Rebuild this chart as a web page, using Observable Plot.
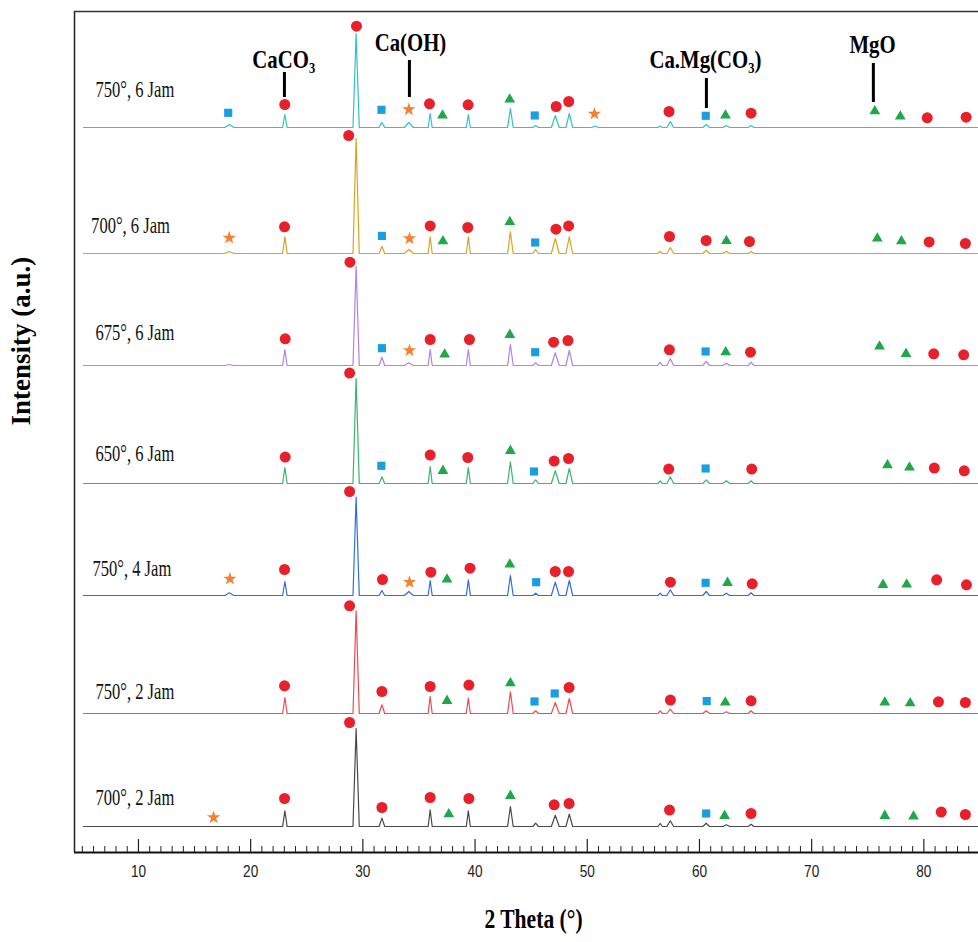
<!DOCTYPE html>
<html>
<head>
<meta charset="utf-8">
<script src="https://cdn.jsdelivr.net/npm/d3@7"></script>
<script src="https://cdn.jsdelivr.net/npm/@observablehq/plot@0.6"></script>
<style>
html, body { margin: 0; padding: 0; background: #fff; }
#chart svg { display: block; }
</style>
</head>
<body>
<div id="chart"></div>
<script>
// ---------- DATA ----------
const sampleLabels = ["750°, 6 Jam", "700°, 6 Jam", "675°, 6 Jam", "650°, 6 Jam", "750°, 4 Jam", "750°, 2 Jam", "700°, 2 Jam"];
// vertical offset of each pattern (a.u.)
const baselines = [725, 599, 487, 369, 257, 139, 26];
const labelHeights = [37.5, 28, 33, 30, 27, 22, 29];
const labelTheta = [6.17, 5.78, 6.17, 6.17, 5.9, 6.17, 6.17];

// diffraction peaks (2θ, degrees) and half widths
const peakPos = [18.1, 23.05, 29.4, 31.7, 34.1, 36.0, 39.4, 43.15, 45.4, 47.15, 48.4, 50.7, 56.5, 57.4, 60.6, 62.4, 64.6];
const peakHW  = [0.4, 0.2, 0.28, 0.25, 0.4, 0.18, 0.18, 0.25, 0.25, 0.35, 0.3, 0.3, 0.2, 0.3, 0.3, 0.3, 0.25];
// peak intensities per pattern (a.u.), aligned with peakPos
const peaks750_6 = [3, 13, 94, 5, 5, 14, 13, 19, 2, 12, 14, 1.5, 1.5, 6, 3, 2, 2];
const peaks700_6 = [2, 16.7, 115, 7, 4, 16.7, 16.7, 21.7, 4, 15, 16.7, 0, 2, 6, 3.3, 2, 2];
const peaks675_6 = [1, 16, 99, 8.3, 2.7, 16, 16, 21, 2.7, 12.7, 15, 0, 3.3, 6.7, 4, 2.3, 3.3];
const peaks650_6 = [0, 16, 105, 6.7, 0, 17, 16, 21.7, 3.7, 12.7, 15, 0, 2.7, 6.7, 3.7, 2.7, 2.7];
const peaks750_4 = [2.7, 14, 98.3, 5, 4, 15, 15.7, 20, 2.3, 13.3, 15, 0, 2.3, 5.7, 4, 2.3, 2.7];
const peaks750_2 = [0, 16, 102.7, 8.7, 0, 17, 15.3, 21.7, 2.7, 11, 15, 0, 2.7, 4.3, 2.7, 1.7, 2.7];
const peaks700_2 = [0, 15.7, 98, 8.4, 0, 16.7, 15.7, 20, 3.3, 11.3, 12.4, 0, 3, 5.7, 3.3, 1.7, 2.3];
const scanStart = 5.1, scanEnd = 84.8;

// phase markers: [phase, 2θ, height above pattern baseline]
// C = CaCO3 (circle), P = Ca(OH) (star), S = Ca.Mg(CO3) (square), T = MgO (triangle)
const marks750_6 = [["S",18.0,14.7],["C",23.04,23],["C",29.43,101.3],["S",31.66,17.7],["P",34.1,18],["C",35.94,23.7],["T",37.1,12],["C",39.38,22.7],["T",43.09,28],["S",45.32,12],["C",47.23,21],["C",48.35,26],["P",50.64,13.7],["C",57.29,16],["S",60.56,11.7],["T",62.32,12],["C",64.6,14.3],["T",75.63,16.3],["T",77.9,11],["C",80.3,9.7],["C",83.77,10.3]];
const marks700_6 = [["P",18.09,15.6],["C",23.02,26.7],["C",28.74,118],["S",31.7,17.6],["P",34.16,15],["C",36.0,27.6],["T",37.14,12.3],["C",39.35,26],["T",43.1,31.6],["S",45.36,11],["C",47.21,24.3],["C",48.34,27.6],["C",57.33,17],["C",60.6,13],["T",62.4,12.6],["C",64.46,12],["T",75.85,15],["T",78.0,12.3],["C",80.47,11.6],["C",83.7,10]];
const marks675_6 = [["C",23.08,26.7],["C",28.85,103.3],["S",31.7,17.3],["P",34.16,15],["C",36.0,26],["T",37.29,11],["C",39.5,26],["T",43.1,30.7],["S",45.36,13.3],["C",47.0,23.3],["C",48.28,25],["C",57.32,15.7],["S",60.55,14],["T",62.34,13.3],["C",64.55,13.3],["T",76.05,19],["T",78.41,11.7],["C",80.88,11.7],["C",83.55,10.7]];
const marks650_6 = [["C",23.08,26.4],["C",28.82,110.4],["S",31.65,17.7],["C",36.0,28.4],["T",37.14,12.7],["C",39.35,26],["T",43.15,32.7],["S",45.25,12],["C",47.05,22.4],["C",48.33,25],["C",57.26,14.4],["S",60.55,15],["C",64.66,14.4],["T",76.76,18.4],["T",78.72,16],["C",80.93,15.4],["C",83.6,12.7]];
const marks750_4 = [["P",18.15,16.7],["C",23.02,26],["C",28.82,104],["C",31.75,16],["P",34.16,13.3],["C",36.06,23.3],["T",37.5,16],["C",39.55,27.3],["T",43.1,31],["S",45.45,13.3],["C",47.15,24],["C",48.33,24],["C",57.41,13.3],["S",60.55,12.7],["T",62.5,12.7],["C",64.7,11.7],["T",76.36,10.7],["T",78.47,11],["C",81.14,15.7],["C",83.8,10.7]];
const marks750_2 = [["C",23.02,27.7],["C",28.82,107.7],["C",31.7,22],["C",36.0,27],["T",37.5,12.7],["C",39.45,28.4],["T",43.15,30.4],["S",45.3,12],["S",47.1,20],["C",48.38,26],["C",57.41,13.4],["S",60.65,12.4],["T",62.3,11],["C",64.6,12.7],["T",76.52,11],["T",78.78,10.4],["C",81.3,11.7],["C",83.7,11]];
const marks700_2 = [["P",16.7,9],["C",23.02,28],["C",28.82,104],["C",31.7,19],["C",36.0,29],["T",37.66,12.4],["C",39.45,28],["T",43.15,30.7],["C",47.05,21.7],["C",48.38,23],["C",57.33,16.4],["S",60.6,13],["T",62.24,10.7],["C",64.6,13],["T",76.52,10.7],["T",79.08,10],["C",81.55,14.4],["C",83.7,12]];

// phase annotations
const phaseNames = ["CaCO₃", "Ca(OH)", "Ca.Mg(CO₃)", "MgO"];
const phaseTextTheta = [22.95, 34.24, 60.53, 75.42];
const phaseTextY = [793, 810, 793, 808];
const phaseLineTheta = [23.01, 34.15, 60.62, 75.5];
const phaseLineTop = [780, 792, 774, 789];
const phaseLineBottom = [755, 755, 744, 750];

const majorTicks = [10, 20, 30, 40, 50, 60, 70, 80];
const minorTicks = d3.range(5, 85).filter(d => d % 10 !== 0);
const xTitle = "2 Theta (°)";
const yTitle = "Intensity (a.u.)";

// ---------- BUILD ----------
const peakSets = [peaks750_6, peaks700_6, peaks675_6, peaks650_6, peaks750_4, peaks750_2, peaks700_2];
const markSets = [marks750_6, marks700_6, marks675_6, marks650_6, marks750_4, marks750_2, marks700_2];
const traceColors = ["#2ec4c6", "#d9a521", "#b383e6", "#3cb46e", "#2f6fdc", "#ef4b52", "#4a4a4a"];

function tracePoints(i) {
  const b = baselines[i];
  const pts = [{x: scanStart, y: b}];
  peakPos.forEach((p, k) => {
    const h = peakSets[i][k];
    if (h > 0) {
      pts.push({x: p - peakHW[k], y: b});
      pts.push({x: p, y: b + h});
      pts.push({x: p + peakHW[k], y: b});
    }
  });
  pts.push({x: scanEnd, y: b});
  return pts;
}

const markerRows = [];
markSets.forEach((set, i) => set.forEach(([phase, x, h]) => markerRows.push({phase, x, y: baselines[i] + h})));

const phaseRows = phaseNames.map((name, k) => ({
  name, tx: phaseTextTheta[k], ty: phaseTextY[k], lx: phaseLineTheta[k], y1: phaseLineTop[k], y2: phaseLineBottom[k]
}));
const labelRows = sampleLabels.map((t, i) => ({t, x: labelTheta[i], y: baselines[i] + labelHeights[i]}));

const serif = "'Liberation Serif', 'Times New Roman', Times, serif";
const sans = "'Liberation Sans', Arial, Helvetica, sans-serif";

const phaseStyle = {
  C: {symbol: "circle", fill: "#e8202a", r: 5.5},
  T: {symbol: "triangle", fill: "#1fa84a", r: 4},
  S: {symbol: "square", fill: "#1b9de2", r: 4.6},
  P: {symbol: "star", fill: "#f5802f", r: 4.2}
};

const marks = [];
// frame
marks.push(Plot.ruleX([4.3], {stroke: "#222", strokeWidth: 1.5}));
marks.push(Plot.ruleY([841], {stroke: "#333", strokeWidth: 1.3}));
// traces
baselines.forEach((b, i) => {
  marks.push(Plot.line(tracePoints(i), {x: "x", y: "y", stroke: traceColors[i], strokeWidth: 1.2}));
});
// markers
Object.entries(phaseStyle).forEach(([ph, st]) => {
  marks.push(Plot.dot(markerRows.filter(d => d.phase === ph), {x: "x", y: "y", symbol: st.symbol, fill: st.fill, r: st.r, stroke: "none"}));
});
// phase label lines + texts   (text marks, in order: 0 phase, 1 sample, 2 ticks, 3 x title, 4 y title)
marks.push(Plot.ruleX(phaseRows, {x: "lx", y1: "y1", y2: "y2", stroke: "#000", strokeWidth: 3}));
marks.push(Plot.text(phaseRows, {x: "tx", y: "ty", text: "name", fontFamily: serif, fontWeight: "bold", fontSize: 26, fill: "#000"}));
// sample labels
marks.push(Plot.text(labelRows, {x: "x", y: "y", text: "t", textAnchor: "start", fontFamily: serif, fontSize: 23, fill: "#111"}));
// bottom axis
marks.push(Plot.ruleY([0], {stroke: "#111", strokeWidth: 1.8}));
marks.push(Plot.ruleX(minorTicks, {x: d => d, insetTop: 835, stroke: "#222", strokeWidth: 1}));
marks.push(Plot.ruleX(majorTicks, {x: d => d, insetTop: 828, stroke: "#222", strokeWidth: 1.2}));
marks.push(Plot.text(majorTicks, {x: d => d, frameAnchor: "bottom", dy: 24, text: d => String(d), fontFamily: sans, fontSize: 16, fill: "#222"}));
// titles
marks.push(Plot.text([xTitle], {frameAnchor: "bottom", dx: 7, dy: 75, text: d => d, fontFamily: serif, fontWeight: "bold", fontSize: 27, fill: "#000"}));
marks.push(Plot.text([yTitle], {frameAnchor: "left", dx: -53, dy: -6.5, rotate: -90, text: d => d, fontFamily: serif, fontWeight: "bold", fontSize: 27, fill: "#000"}));

const chart = Plot.plot({
  width: 978,
  height: 942,
  marginLeft: 74,
  marginRight: 0,
  marginTop: 11,
  marginBottom: 90,
  x: {domain: [4.3, 84.87], axis: null},
  y: {domain: [0, 841], axis: null},
  style: {background: "#fff"},
  marks
});

// condensed horizontal text, as in the original figure
const squeeze = [0.8, 0.72, 0.85, 0.8];
const textGroups = chart.querySelectorAll('g[aria-label="text"]');
textGroups.forEach((g, gi) => {
  const s = squeeze[gi];
  if (!s) return;
  g.querySelectorAll("text").forEach(el => {
    const t = el.getAttribute("transform") || "";
    el.setAttribute("transform", `${t} scale(${s},1)`);
  });
});

document.getElementById("chart").appendChild(chart);
</script>
</body>
</html>
